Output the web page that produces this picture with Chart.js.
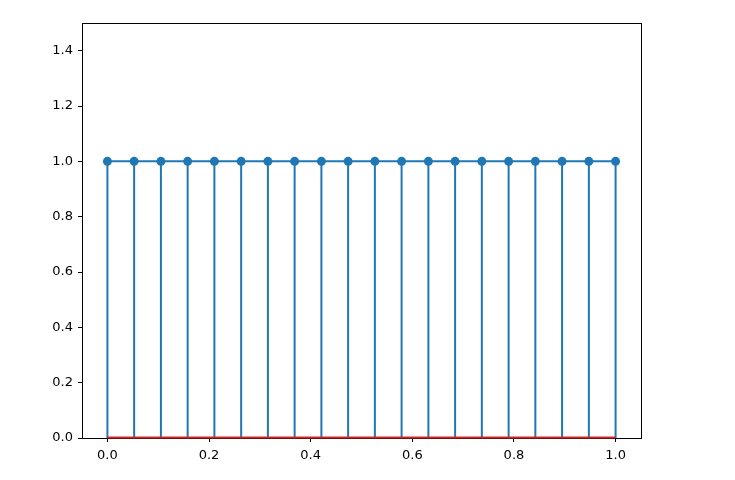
<!DOCTYPE html>
<html>
<head>
<meta charset="utf-8">
<script src="https://cdn.jsdelivr.net/npm/chart.js@4"></script>
<style>
  html, body { margin: 0; padding: 0; background: #fff; }
  #wrap { width: 735px; height: 480px; }
</style>
</head>
<body>
<div id="wrap"><canvas id="stemChart" width="735" height="480"></canvas></div>
<script>
// stem positions (0..1 in 20 steps) and heights
const xValues = [0, 0.0526, 0.1053, 0.1579, 0.2105, 0.2632, 0.3158, 0.3684, 0.4211, 0.4737,
                 0.5263, 0.5789, 0.6316, 0.6842, 0.7368, 0.7895, 0.8421, 0.8947, 0.9474, 1];
const yValues = [1, 1, 1, 1, 1, 1, 1, 1, 1, 1, 1, 1, 1, 1, 1, 1, 1, 1, 1, 1];
const xTicks = [0.0, 0.2, 0.4, 0.6, 0.8, 1.0];
const yTicks = [0.0, 0.2, 0.4, 0.6, 0.8, 1.0, 1.2, 1.4];
const baseline = 0;

const blue = '#1f77b4';
const red = '#d62728';

// frame, then stems + baseline
const stemPlugin = {
    id: 'stems',
    beforeDatasetsDraw(chart) {
        const ctx = chart.ctx;
        const a = chart.chartArea;
        const xs = chart.scales.x, ys = chart.scales.y;
        ctx.save();
        ctx.strokeStyle = '#000';
        ctx.lineWidth = 1;
        ctx.strokeRect(Math.round(a.left) + 0.5, Math.round(a.top) + 0.5,
                       Math.round(a.right - a.left), Math.round(a.bottom - a.top));

        ctx.strokeStyle = blue;
        ctx.lineWidth = 2;
        xValues.forEach(function (x, i) {
            const px = xs.getPixelForValue(x);
            ctx.beginPath();
            ctx.moveTo(px, ys.getPixelForValue(baseline));
            ctx.lineTo(px, ys.getPixelForValue(yValues[i]));
            ctx.stroke();
        });
        ctx.strokeStyle = red;
        ctx.beginPath();
        ctx.moveTo(xs.getPixelForValue(xValues[0]), ys.getPixelForValue(baseline) - 0.5);
        ctx.lineTo(xs.getPixelForValue(xValues[xValues.length - 1]), ys.getPixelForValue(baseline) - 0.5);
        ctx.stroke();
        ctx.restore();
    }
};

const tickFont = { family: 'DejaVu Sans', size: 13 };

new Chart(document.getElementById('stemChart').getContext('2d'), {
    type: 'scatter',
    data: {
        datasets: [{
            data: xValues.map((x, i) => ({ x: x, y: yValues[i] })),
            showLine: true,
            borderColor: blue,
            backgroundColor: blue,
            borderWidth: 2,
            pointRadius: 4.5,
            pointBorderWidth: 0,
            pointHoverRadius: 4.5
        }]
    },
    options: {
        responsive: false,
        animation: false,
        layout: { padding: { top: 23, right: 94, left: 0, bottom: 0 } },
        plugins: {
            legend: { display: false },
            tooltip: { enabled: false }
        },
        scales: {
            x: {
                type: 'linear',
                min: -0.05,
                max: 1.05,
                afterBuildTicks: function (axis) {
                    axis.ticks = xTicks.map(v => ({ value: v }));
                },
                afterFit: function (axis) { axis.height = 42; },
                ticks: {
                    color: '#000',
                    font: tickFont,
                    padding: 6,
                    maxRotation: 0,
                    callback: v => v.toFixed(1)
                },
                grid: { drawOnChartArea: false, color: '#000', tickLength: 4 },
                border: { color: '#000' }
            },
            y: {
                type: 'linear',
                min: 0,
                max: 1.5,
                afterBuildTicks: function (axis) {
                    axis.ticks = yTicks.map(v => ({ value: v }));
                },
                afterFit: function (axis) { axis.width = 82; },
                ticks: {
                    color: '#000',
                    font: tickFont,
                    padding: 5,
                    callback: v => v.toFixed(1)
                },
                grid: { drawOnChartArea: false, color: '#000', tickLength: 4 },
                border: { color: '#000' }
            }
        }
    },
    plugins: [stemPlugin]
});
</script>
</body>
</html>
